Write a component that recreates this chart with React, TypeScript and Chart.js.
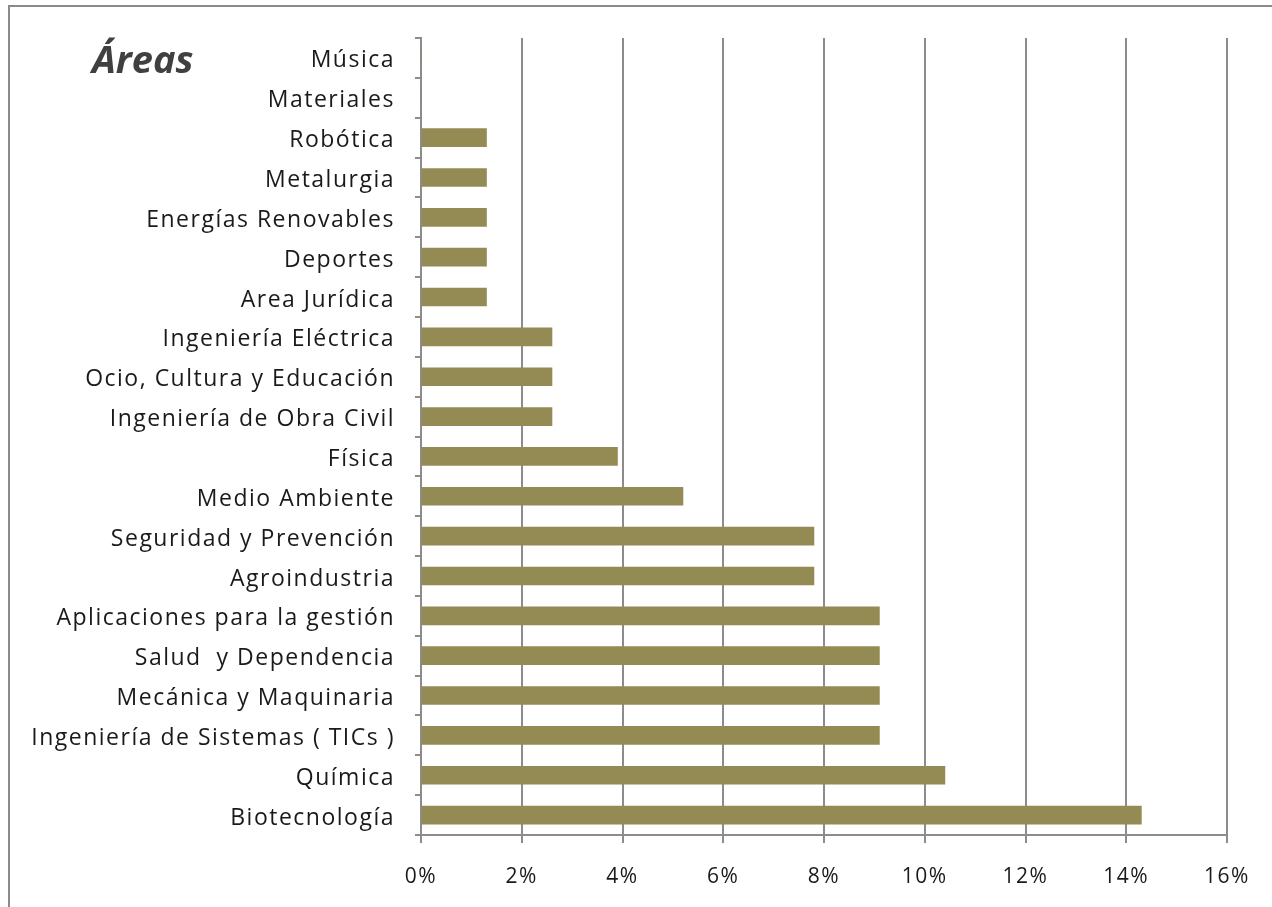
import React, { useEffect, useRef } from "react";
import { Chart, registerables } from "chart.js";

Chart.register(...registerables);

const categories = [
  "Música",
  "Materiales",
  "Robótica",
  "Metalurgia",
  "Energías Renovables",
  "Deportes",
  "Area Jurídica",
  "Ingeniería Eléctrica",
  "Ocio, Cultura y Educación",
  "Ingeniería de Obra Civil",
  "Física",
  "Medio Ambiente",
  "Seguridad y Prevención",
  "Agroindustria",
  "Aplicaciones para la gestión",
  "Salud  y Dependencia",
  "Mecánica y Maquinaria",
  "Ingeniería de Sistemas ( TICs )",
  "Química",
  "Biotecnología",
];

const shares = [
  0, 0, 1.3, 1.3, 1.3, 1.3, 1.3, 2.6, 2.6, 2.6, 3.9, 5.2, 7.8, 7.8, 9.1, 9.1, 9.1, 9.1, 10.4, 14.3,
];

const xTicks = [0, 2, 4, 6, 8, 10, 12, 14, 16];
const titleText = "Áreas";

const FONT = "'Open Sans', sans-serif";

const spacingPlugin = {
  id: "spacing",
  beforeDraw: (chart: any) => {
    chart.ctx.letterSpacing = "1.5px";
  },
};

export default function App() {
  const ref = useRef<HTMLCanvasElement | null>(null);

  useEffect(() => {
    if (!ref.current) return;
    const chart = new Chart(ref.current, {
      type: "bar",
      data: {
        labels: categories,
        datasets: [
          {
            data: shares,
            backgroundColor: "#948A54",
            borderWidth: 0,
            barThickness: 18,
          },
        ],
      },
      plugins: [spacingPlugin],
      options: {
        indexAxis: "y",
        animation: false,
        responsive: false,
        maintainAspectRatio: false,
        layout: { padding: { top: 38, right: 45, left: 0, bottom: 0 } },
        plugins: { legend: { display: false }, tooltip: { enabled: false } },
        scales: {
          x: {
            min: 0,
            max: 16,
            afterBuildTicks: (axis: any) => {
              axis.ticks = xTicks.map((v) => ({ value: v }));
            },
            afterFit: (axis: any) => {
              axis.height = 72;
            },
            ticks: {
              callback: (v: any) => v + "%",
              color: "#1a1a1a",
              font: { family: FONT, size: 21 },
              padding: 21,
              maxRotation: 0,
            },
            grid: {
              color: "#8c8c8c",
              lineWidth: 2,
              tickLength: 8,
              drawTicks: true,
            },
            border: { color: "#8c8c8c", width: 2 },
          },
          y: {
            afterFit: (axis: any) => {
              axis.width = 421;
            },
            ticks: {
              color: "#1a1a1a",
              font: { family: FONT, size: 23 },
              padding: 20,
              labelOffset: 3,
              autoSkip: false,
            },
            grid: {
              offset: true,
              drawOnChartArea: false,
              color: "#8c8c8c",
              lineWidth: 2,
              tickLength: 6,
            },
            border: { color: "#8c8c8c", width: 2 },
          },
        },
      },
    });
    return () => chart.destroy();
  }, []);

  return (
    <div style={{ position: "absolute", left: 0, top: 0, width: 1272, height: 907, background: "#fff", overflow: "hidden" }}>
      <div
        style={{
          position: "absolute",
          left: 8,
          top: 5,
          width: 1400,
          height: 1000,
          borderLeft: "2px solid #8a8a8a",
          borderTop: "2px solid #8a8a8a",
        }}
      />
      <canvas ref={ref} width={1272} height={907} style={{ position: "absolute", left: 0, top: 0 }} />
      <div
        style={{
          position: "absolute",
          left: 92,
          top: 35,
          fontFamily: "'Open Sans', sans-serif",
          fontWeight: 700,
          fontStyle: "italic",
          fontSize: 38,
          color: "#404040",
          lineHeight: "46px",
        }}
      >
        {titleText}
      </div>
    </div>
  );
}
